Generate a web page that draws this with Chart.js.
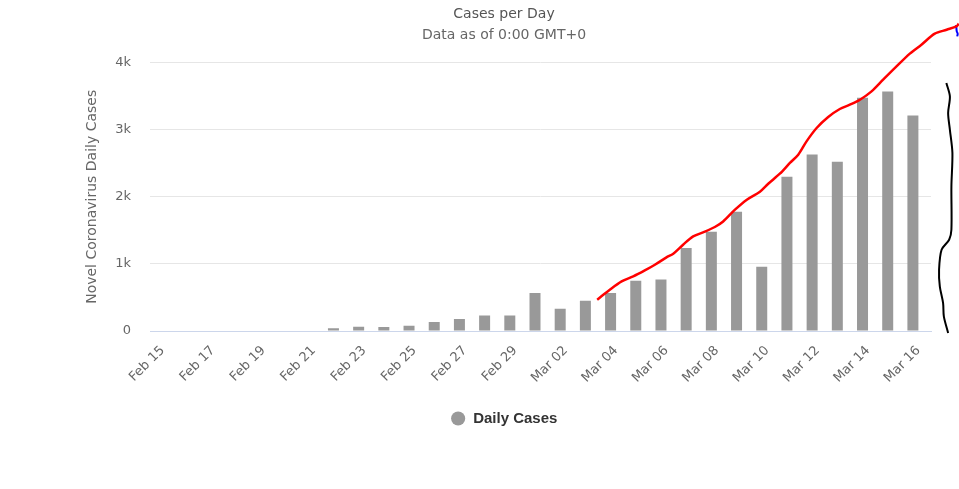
<!DOCTYPE html>
<html>
<head>
<meta charset="utf-8">
<script src="https://cdn.jsdelivr.net/npm/chart.js@4.4.1/dist/chart.umd.min.js"></script>
<style>
  html, body { margin: 0; padding: 0; background: #fff; }
  #wrap { width: 959px; height: 489px; }
</style>
</head>
<body>
<div id="wrap"><canvas id="casesChart"></canvas></div>
<script>
const days = ['Feb 15', 'Feb 16', 'Feb 17', 'Feb 18', 'Feb 19', 'Feb 20', 'Feb 21', 'Feb 22',
  'Feb 23', 'Feb 24', 'Feb 25', 'Feb 26', 'Feb 27', 'Feb 28', 'Feb 29', 'Mar 01', 'Mar 02',
  'Mar 03', 'Mar 04', 'Mar 05', 'Mar 06', 'Mar 07', 'Mar 08', 'Mar 09', 'Mar 10', 'Mar 11',
  'Mar 12', 'Mar 13', 'Mar 14', 'Mar 15', 'Mar 16'];
const dailyCases = [0, 0, 0, 0, 0, 0, 0, 40,
  62, 60, 80, 135, 180, 230, 232, 567, 330,
  452, 565, 748, 768, 1237, 1480, 1778, 958, 2300,
  2632, 2524, 3475, 3568, 3210];

// hand-drawn red trend line (x in day index units)
const trendX = [17.25, 17.75, 18.22, 18.68, 19.14, 19.54, 20.0, 20.27, 20.66, 21.06, 21.52, 21.92,
  22.25, 22.72, 23.19, 23.71, 24.04, 24.5, 24.9, 25.23, 25.56, 25.96, 26.42, 26.88, 27.28,
  27.68, 28.14, 28.6, 29.07, 29.66, 30.12, 30.65, 31.12, 31.51, 31.6];
const trendY = [466, 615, 740, 814, 903, 988, 1097, 1152, 1286, 1410, 1480, 1550,
  1633, 1808, 1957, 2076, 2195, 2344, 2504, 2627, 2826, 3025, 3189, 3308, 3372,
  3447, 3571, 3745, 3920, 4133, 4267, 4431, 4490, 4540, 4580];

// hand-drawn black brace on the right
const braceX = [31.11, 31.25, 31.18, 31.25, 31.35, 31.31, 31.31, 31.22, 30.92, 30.82, 30.85, 30.98, 31.01, 31.18];
const braceY = [3695, 3495, 3248, 2999, 2652, 2154, 1509, 1360, 1211, 913, 665, 417, 218, -30];

// small blue scribble at the top right
const markX = [31.5, 31.52, 31.56, 31.54];
const markY = [4560, 4470, 4430, 4390];

const yTicks = [0, 1000, 2000, 3000, 4000];
const yTickLabels = ['0', '1k', '2k', '3k', '4k'];

const font = 'DejaVu Sans';

function toPoints(xs, ys) {
  return xs.map((x, i) => ({ x: x, y: ys[i] }));
}

function drawing(label, xs, ys, color, width) {
  return {
    type: 'line',
    label: label,
    xAxisID: 'xl',
    data: toPoints(xs, ys),
    borderColor: color,
    borderWidth: width,
    pointRadius: 0,
    tension: 0.3,
    clip: false,
    fill: false,
    order: 1
  };
}

new Chart(document.getElementById('casesChart').getContext('2d'), {
  type: 'bar',
  data: {
    labels: days,
    datasets: [
      {
        label: 'Daily Cases',
        data: dailyCases,
        backgroundColor: '#999999',
        borderWidth: 0,
        inflateAmount: 0,
        barThickness: 11,
        order: 3
      },
      drawing('trend', trendX, trendY, '#ff0000', 2.5),
      drawing('brace', braceX, braceY, '#000000', 2),
      drawing('mark', markX, markY, '#0000ff', 2)
    ]
  },
  options: {
    responsive: true,
    maintainAspectRatio: false,
    animation: false,
    layout: { padding: { left: 77, right: 28, top: 0, bottom: 53 } },
    scales: {
      x: {
        grid: { display: false },
        border: { color: '#ccd6eb' },
        ticks: {
          autoSkip: false,
          maxRotation: 45,
          minRotation: 45,
          padding: 4,
          color: '#666666',
          font: { family: font, size: 13 },
          callback: (v, i) => (i % 2 === 0 ? days[i] : '')
        }
      },
      xl: {
        type: 'linear',
        display: false,
        offset: false,
        bounds: 'data',
        afterDataLimits: axis => { axis.min = -0.5; axis.max = 30.5; }
      },
      y: {
        min: 0,
        max: 4000,
        grid: { color: '#e6e6e6', drawTicks: false },
        border: { display: false },
        afterBuildTicks: axis => { axis.ticks = yTicks.map(v => ({ value: v })); },
        afterFit: axis => { axis.width = 73; },
        ticks: {
          padding: 19,
          color: '#666666',
          font: { family: font, size: 13 },
          callback: v => yTickLabels[yTicks.indexOf(v)]
        },
        title: {
          display: true,
          text: 'Novel Coronavirus Daily Cases',
          color: '#666666',
          font: { family: font, size: 14 },
          padding: { top: 7, bottom: 0 }
        }
      }
    },
    plugins: {
      title: {
        display: true,
        text: 'Cases per Day',
        color: '#555555',
        font: { family: font, size: 14, weight: 'normal' },
        padding: { top: 6, bottom: 2 }
      },
      subtitle: {
        display: true,
        text: 'Data as of 0:00 GMT+0',
        color: '#666666',
        font: { family: font, size: 14 },
        padding: { top: 2, bottom: 19 }
      },
      legend: {
        display: true,
        position: 'bottom',
        labels: {
          filter: item => item.text === 'Daily Cases',
          usePointStyle: true,
          pointStyle: 'circle',
          boxHeight: 10,
          color: '#333333',
          padding: 21,
          font: { family: 'Liberation Sans', size: 15, weight: 'bold' }
        }
      },
      tooltip: { enabled: false }
    }
  }
});
</script>
</body>
</html>
